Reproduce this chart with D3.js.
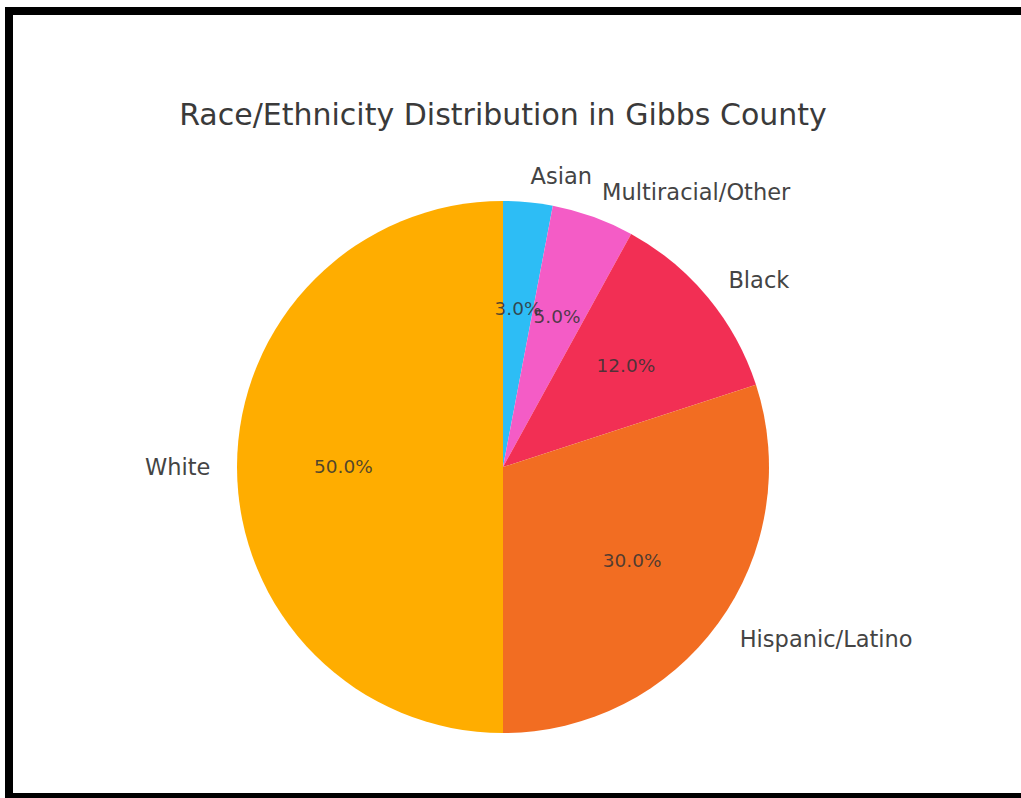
<!DOCTYPE html>
<head>
    <meta charset="utf-8">
    <title>Race/Ethnicity Distribution in Gibbs County</title>
    <style>
        body { margin: 0; background: #fff; }
        svg { display: block; font-family: "DejaVu Sans", sans-serif; }
    </style>
</head>
<body>

<svg width="1021" height="798"></svg>

<script src="https://d3js.org/d3.v7.min.js"></script>

<script>

// chart data
var groups = ['Asian', 'Multiracial/Other', 'Black', 'Hispanic/Latino', 'White'];
var shares = [3, 5, 12, 30, 50];
var colors = ['#2dbdf5', '#f45cc6', '#f22f54', '#f26d22', '#ffad00'];

var svg = d3.select('svg'),
    width = +svg.attr('width'),
    height = +svg.attr('height');

var cx = 503, cy = 467, radius = 266;

// black frame round the picture
svg.append('rect')
    .attr('x', 9).attr('y', 11)
    .attr('width', 1030).attr('height', 786)
    .attr('fill', 'none')
    .attr('stroke', '#000')
    .attr('stroke-width', 8);

svg.append('text')
    .attr('x', cx)
    .attr('y', 125)
    .attr('text-anchor', 'middle')
    .attr('font-size', 30)
    .attr('fill', '#3a3a3a')
    .text('Race/Ethnicity Distribution in Gibbs County');

var data = groups.map((g, i) => ({ group: g, share: shares[i], color: colors[i] }));

// clockwise from 12 o'clock, same order as the data
var pie = d3.pie().sort(null).value(d => d.share);
var arc = d3.arc().innerRadius(0).outerRadius(radius);

var total = d3.sum(shares);
var arcs = pie(data);

var g = svg.append('g').attr('transform', `translate(${cx},${cy})`);

g.selectAll('path')
    .data(arcs)
    .enter().append('path')
        .attr('d', arc)
        .attr('fill', d => d.data.color);

// point at a fraction of the radius along the middle of a slice
var at = (d, k) => {
    var a = (d.startAngle + d.endAngle) / 2;
    return [Math.sin(a) * radius * k, -Math.cos(a) * radius * k];
};

// group labels outside
g.selectAll('text.label')
    .data(arcs)
    .enter().append('text')
        .attr('class', 'label')
        .attr('x', d => at(d, 1.1)[0])
        .attr('y', d => at(d, 1.1)[1])
        .attr('dy', '0.35em')
        .attr('text-anchor', d => at(d, 1.1)[0] > 0 ? 'start' : 'end')
        .attr('font-size', 22.5)
        .attr('fill', '#444')
        .text(d => d.data.group);

// percentages inside
g.selectAll('text.pct')
    .data(arcs)
    .enter().append('text')
        .attr('class', 'pct')
        .attr('x', d => at(d, 0.6)[0])
        .attr('y', d => at(d, 0.6)[1])
        .attr('dy', '0.35em')
        .attr('text-anchor', 'middle')
        .attr('font-size', 18.5)
        .attr('fill', '#333')
        .attr('fill-opacity', 0.85)
        .text(d => (d.data.share / total * 100).toFixed(1) + '%');

</script>

</body>
